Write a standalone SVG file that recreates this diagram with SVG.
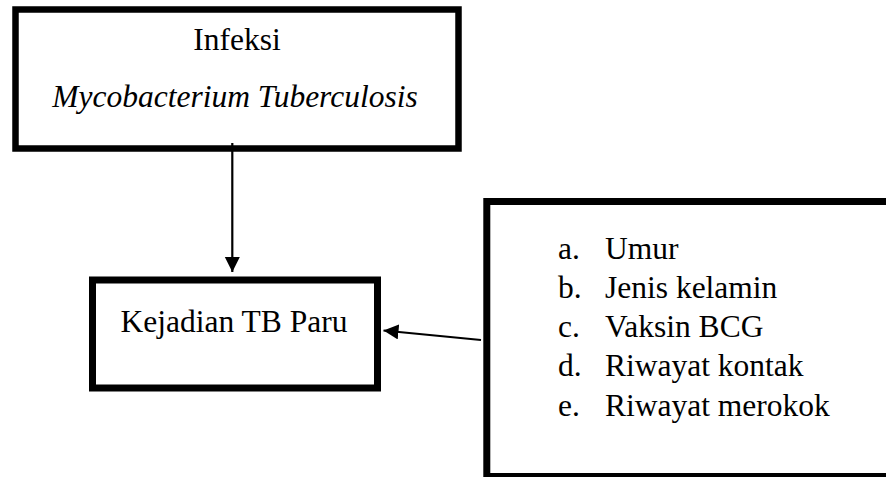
<svg xmlns="http://www.w3.org/2000/svg" width="886" height="477" viewBox="0 0 886 477">
  <style>
    .box { fill: #ffffff; stroke: #000000; stroke-width: 7; }
    .t { font-family: "Liberation Serif", "Times New Roman", serif; font-size: 31.5px; fill: #000000; }
    .c { text-anchor: middle; }
    .it { font-style: italic; }
    .conn { stroke: #000000; stroke-width: 2.2; fill: none; }
  </style>
  <defs>
    <marker id="arrow" markerUnits="userSpaceOnUse" markerWidth="16" markerHeight="16" refX="15" refY="7.5" orient="auto">
      <path d="M0,0 L15,7.5 L0,15 Z" fill="#000000"/>
    </marker>
  </defs>
  <rect x="0" y="0" width="886" height="477" fill="#ffffff"/>

  <g id="node-infeksi">
    <rect class="box" x="15.5" y="9.5" width="443" height="139" style="stroke-width:6.5"/>
    <text class="t c" x="237" y="50">Infeksi</text>
    <text class="t c it" x="235" y="107">Mycobacterium Tuberculosis</text>
  </g>

  <g id="node-kejadian">
    <rect class="box" x="92.5" y="280" width="285" height="108"/>
    <text class="t c" x="234" y="331.5">Kejadian TB Paru</text>
  </g>

  <g id="node-faktor">
    <rect class="box" x="486.8" y="201.5" width="500" height="275"/>
    <text class="t" x="558" y="258.5">a.</text>
    <text class="t" x="605" y="258.5">Umur</text>
    <text class="t" x="558" y="297.8">b.</text>
    <text class="t" x="605" y="297.8">Jenis kelamin</text>
    <text class="t" x="558" y="337">c.</text>
    <text class="t" x="605" y="337">Vaksin BCG</text>
    <text class="t" x="558" y="376.2">d.</text>
    <text class="t" x="605" y="376.2">Riwayat kontak</text>
    <text class="t" x="558" y="415.5">e.</text>
    <text class="t" x="605" y="415.5">Riwayat merokok</text>
  </g>

  <g id="connectors">
    <line class="conn" x1="232.3" y1="143" x2="232.3" y2="272" marker-end="url(#arrow)"/>
    <line class="conn" x1="481" y1="340" x2="383.5" y2="330.5" marker-end="url(#arrow)"/>
  </g>
</svg>
